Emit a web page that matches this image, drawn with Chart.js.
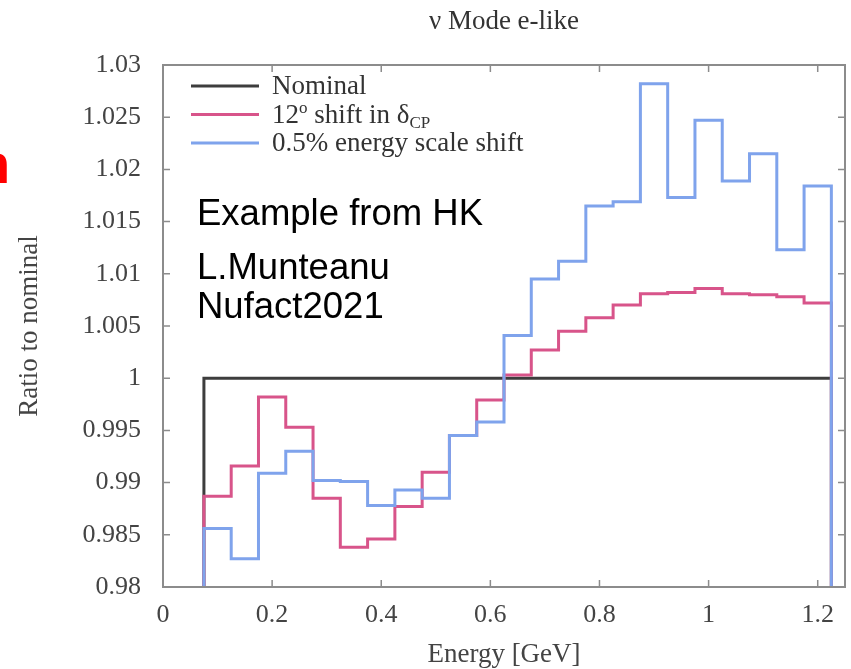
<!DOCTYPE html>
<html>
<head>
<meta charset="utf-8">
<title>ν Mode e-like</title>
<script src="https://cdn.jsdelivr.net/npm/chart.js@4.4.1/dist/chart.umd.min.js"></script>
<style>
  html, body { margin: 0; padding: 0; background: #fff; }
  canvas { display: block; }
</style>
</head>
<body>
<canvas id="ratioChart" width="851" height="669"></canvas>
<script>
// Energy bin edges [GeV], 23 bins of 0.05
const binEdges = [0.075, 0.125, 0.175, 0.225, 0.275, 0.325, 0.375, 0.425, 0.475, 0.525, 0.575, 0.625,
  0.675, 0.725, 0.775, 0.825, 0.875, 0.925, 0.975, 1.025, 1.075, 1.125, 1.175, 1.225];

// Ratio to nominal, one value per bin
const nominal = [1, 1, 1, 1, 1, 1, 1, 1, 1, 1, 1, 1, 1, 1, 1, 1, 1, 1, 1, 1, 1, 1, 1];
const deltaCpShift = [0.9887, 0.9916, 0.9982, 0.9953, 0.9885, 0.9838, 0.9846, 0.9877, 0.9910, 0.9945, 0.9979, 1.0003,
  1.0027, 1.0045, 1.0058, 1.0070, 1.0081, 1.0082, 1.0086, 1.0081, 1.0080, 1.0078, 1.0072];
const energyScaleShift = [0.9856, 0.9827, 0.9909, 0.9930, 0.9902, 0.9901, 0.9878, 0.9893, 0.9885, 0.9945, 0.9958, 1.0041,
  1.0095, 1.0112, 1.0165, 1.0169, 1.0282, 1.0173, 1.0247, 1.0189, 1.0215, 1.0123, 1.0184];

const xTicks = [0, 0.2, 0.4, 0.6, 0.8, 1, 1.2];
const xTickLabels = ["0", "0.2", "0.4", "0.6", "0.8", "1", "1.2"];
const yTicks = [0.98, 0.985, 0.99, 0.995, 1, 1.005, 1.01, 1.015, 1.02, 1.025, 1.03];
const yTickLabels = ["0.98", "0.985", "0.99", "0.995", "1", "1.005", "1.01", "1.015", "1.02", "1.025", "1.03"];

const noteLines = ["Example from HK", "L.Munteanu", "Nufact2021"];

const X_MIN = 0;
const X_MAX = 1.25;
const Y_MIN = 0.98;
const Y_MAX = 1.03;

const serif = "'Liberation Serif', 'Times New Roman', serif";
const textGray = "#444";

// Legend text pieces (sup / sub handled when drawing)
const legendParts = [
  [{ t: "Nominal" }],
  [{ t: "12" }, { t: "o", sup: true }, { t: " shift in " }, { t: "δ" }, { t: "CP", sub: true }],
  [{ t: "0.5% energy scale shift" }],
];

// Bin contents -> step outline that starts and ends on the axis floor
const toSteps = (values) => {
  const last = binEdges[binEdges.length - 1];
  const pts = [{ x: binEdges[0], y: Y_MIN }];
  values.forEach((v, i) => pts.push({ x: binEdges[i], y: v }));
  pts.push({ x: last, y: values[values.length - 1] });
  pts.push({ x: last, y: Y_MIN });
  return pts;
};

const histStyle = {
  stepped: true,
  borderWidth: 3,
  pointRadius: 0,
  fill: false,
};

// Frame with inward tick marks on all four sides
const frameTicks = {
  id: "frameTicks",
  afterDatasetsDraw(chart) {
    const { ctx, chartArea: a, scales: { x, y } } = chart;
    ctx.save();
    ctx.strokeStyle = "#8c8c8c";
    ctx.lineWidth = 2;
    ctx.strokeRect(a.left, a.top, a.right - a.left, a.bottom - a.top);
    ctx.lineWidth = 1.5;
    ctx.beginPath();
    x.ticks.forEach((t) => {
      const px = x.getPixelForValue(t.value);
      ctx.moveTo(px, a.bottom);
      ctx.lineTo(px, a.bottom - 7);
      ctx.moveTo(px, a.top);
      ctx.lineTo(px, a.top + 7);
    });
    y.ticks.forEach((t) => {
      const py = y.getPixelForValue(t.value);
      ctx.moveTo(a.left, py);
      ctx.lineTo(a.left + 7, py);
      ctx.moveTo(a.right, py);
      ctx.lineTo(a.right - 7, py);
    });
    ctx.stroke();
    ctx.restore();
  },
};

// Legend box in the upper-left corner of the frame
const insideLegend = {
  id: "insideLegend",
  afterDraw(chart) {
    const { ctx, chartArea: a } = chart;
    const x0 = a.left + 28;
    const x1 = a.left + 96;
    const textX = a.left + 109;
    ctx.save();
    chart.data.datasets.forEach((ds, i) => {
      const rowY = a.top + 21 + i * 28.5;
      ctx.strokeStyle = ds.borderColor;
      ctx.lineWidth = 3;
      ctx.beginPath();
      ctx.moveTo(x0, rowY);
      ctx.lineTo(x1, rowY);
      ctx.stroke();

      let cx = textX;
      const base = rowY + 8;
      ctx.fillStyle = "#333";
      ctx.textBaseline = "alphabetic";
      ctx.textAlign = "left";
      legendParts[i].forEach((p) => {
        const small = p.sup || p.sub;
        ctx.font = (small ? 17 : 27) + "px " + serif;
        const dy = p.sup ? -10 : p.sub ? 5 : 0;
        ctx.fillText(p.t, cx, base + dy);
        cx += ctx.measureText(p.t).width;
      });
    });
    ctx.restore();
  },
};

// Free text notes on the page
const notes = {
  id: "notes",
  afterDraw(chart) {
    const { ctx } = chart;
    ctx.save();
    ctx.textAlign = "left";
    ctx.textBaseline = "alphabetic";
    ctx.fillStyle = "#ff0000";
    ctx.font = "bold 56px 'Liberation Sans', Arial, sans-serif";
    ctx.fillText("n", -24, 183);

    ctx.fillStyle = "#000";
    ctx.font = "36.5px 'Liberation Sans', Arial, sans-serif";
    const baselines = [225, 279, 318];
    noteLines.forEach((line, i) => ctx.fillText(line, 197, baselines[i]));
    ctx.restore();
  },
};

const ctx = document.getElementById("ratioChart").getContext("2d");

new Chart(ctx, {
  type: "line",
  data: {
    datasets: [
      { ...histStyle, label: "Nominal", data: toSteps(nominal), borderColor: "#3d3d3d", order: 3 },
      { ...histStyle, label: "12° shift in δCP", data: toSteps(deltaCpShift), borderColor: "#d8548a", order: 2 },
      { ...histStyle, label: "0.5% energy scale shift", data: toSteps(energyScaleShift), borderColor: "#7fa3ec", order: 1 },
    ],
  },
  options: {
    responsive: false,
    animation: false,
    events: [],
    layout: { padding: { top: 0, right: 6, bottom: 0, left: 0 } },
    plugins: {
      legend: { display: false },
      tooltip: { enabled: false },
      title: {
        display: true,
        text: "ν Mode e-like",
        fullSize: false,
        color: "#333",
        font: { family: serif, size: 27, weight: "normal" },
        padding: { top: 6, bottom: 26.6 },
      },
    },
    scales: {
      x: {
        type: "linear",
        min: X_MIN,
        max: X_MAX,
        grid: { display: false },
        border: { display: false },
        afterBuildTicks: (scale) => {
          scale.ticks = xTicks.map((v) => ({ value: v }));
        },
        afterFit: (scale) => {
          scale.height = 82;
        },
        ticks: {
          autoSkip: false,
          maxRotation: 0,
          padding: 5,
          color: textGray,
          font: { family: serif, size: 26 },
          callback: (value, index) => xTickLabels[index],
        },
        title: {
          display: true,
          text: "Energy [GeV]",
          color: textGray,
          font: { family: serif, size: 27 },
          padding: { top: 0, bottom: -2 },
        },
      },
      y: {
        type: "linear",
        min: Y_MIN,
        max: Y_MAX,
        grid: { display: false },
        border: { display: false },
        afterBuildTicks: (scale) => {
          scale.ticks = yTicks.map((v) => ({ value: v }));
        },
        afterFit: (scale) => {
          scale.width = 163;
        },
        ticks: {
          autoSkip: false,
          padding: 14,
          color: textGray,
          font: { family: serif, size: 26 },
          callback: (value, index) => yTickLabels[index],
        },
        title: {
          display: true,
          text: "Ratio to nominal",
          color: textGray,
          font: { family: serif, size: 27 },
          padding: { top: 14, bottom: 0 },
        },
      },
    },
  },
  plugins: [frameTicks, insideLegend, notes],
});
</script>
</body>
</html>
